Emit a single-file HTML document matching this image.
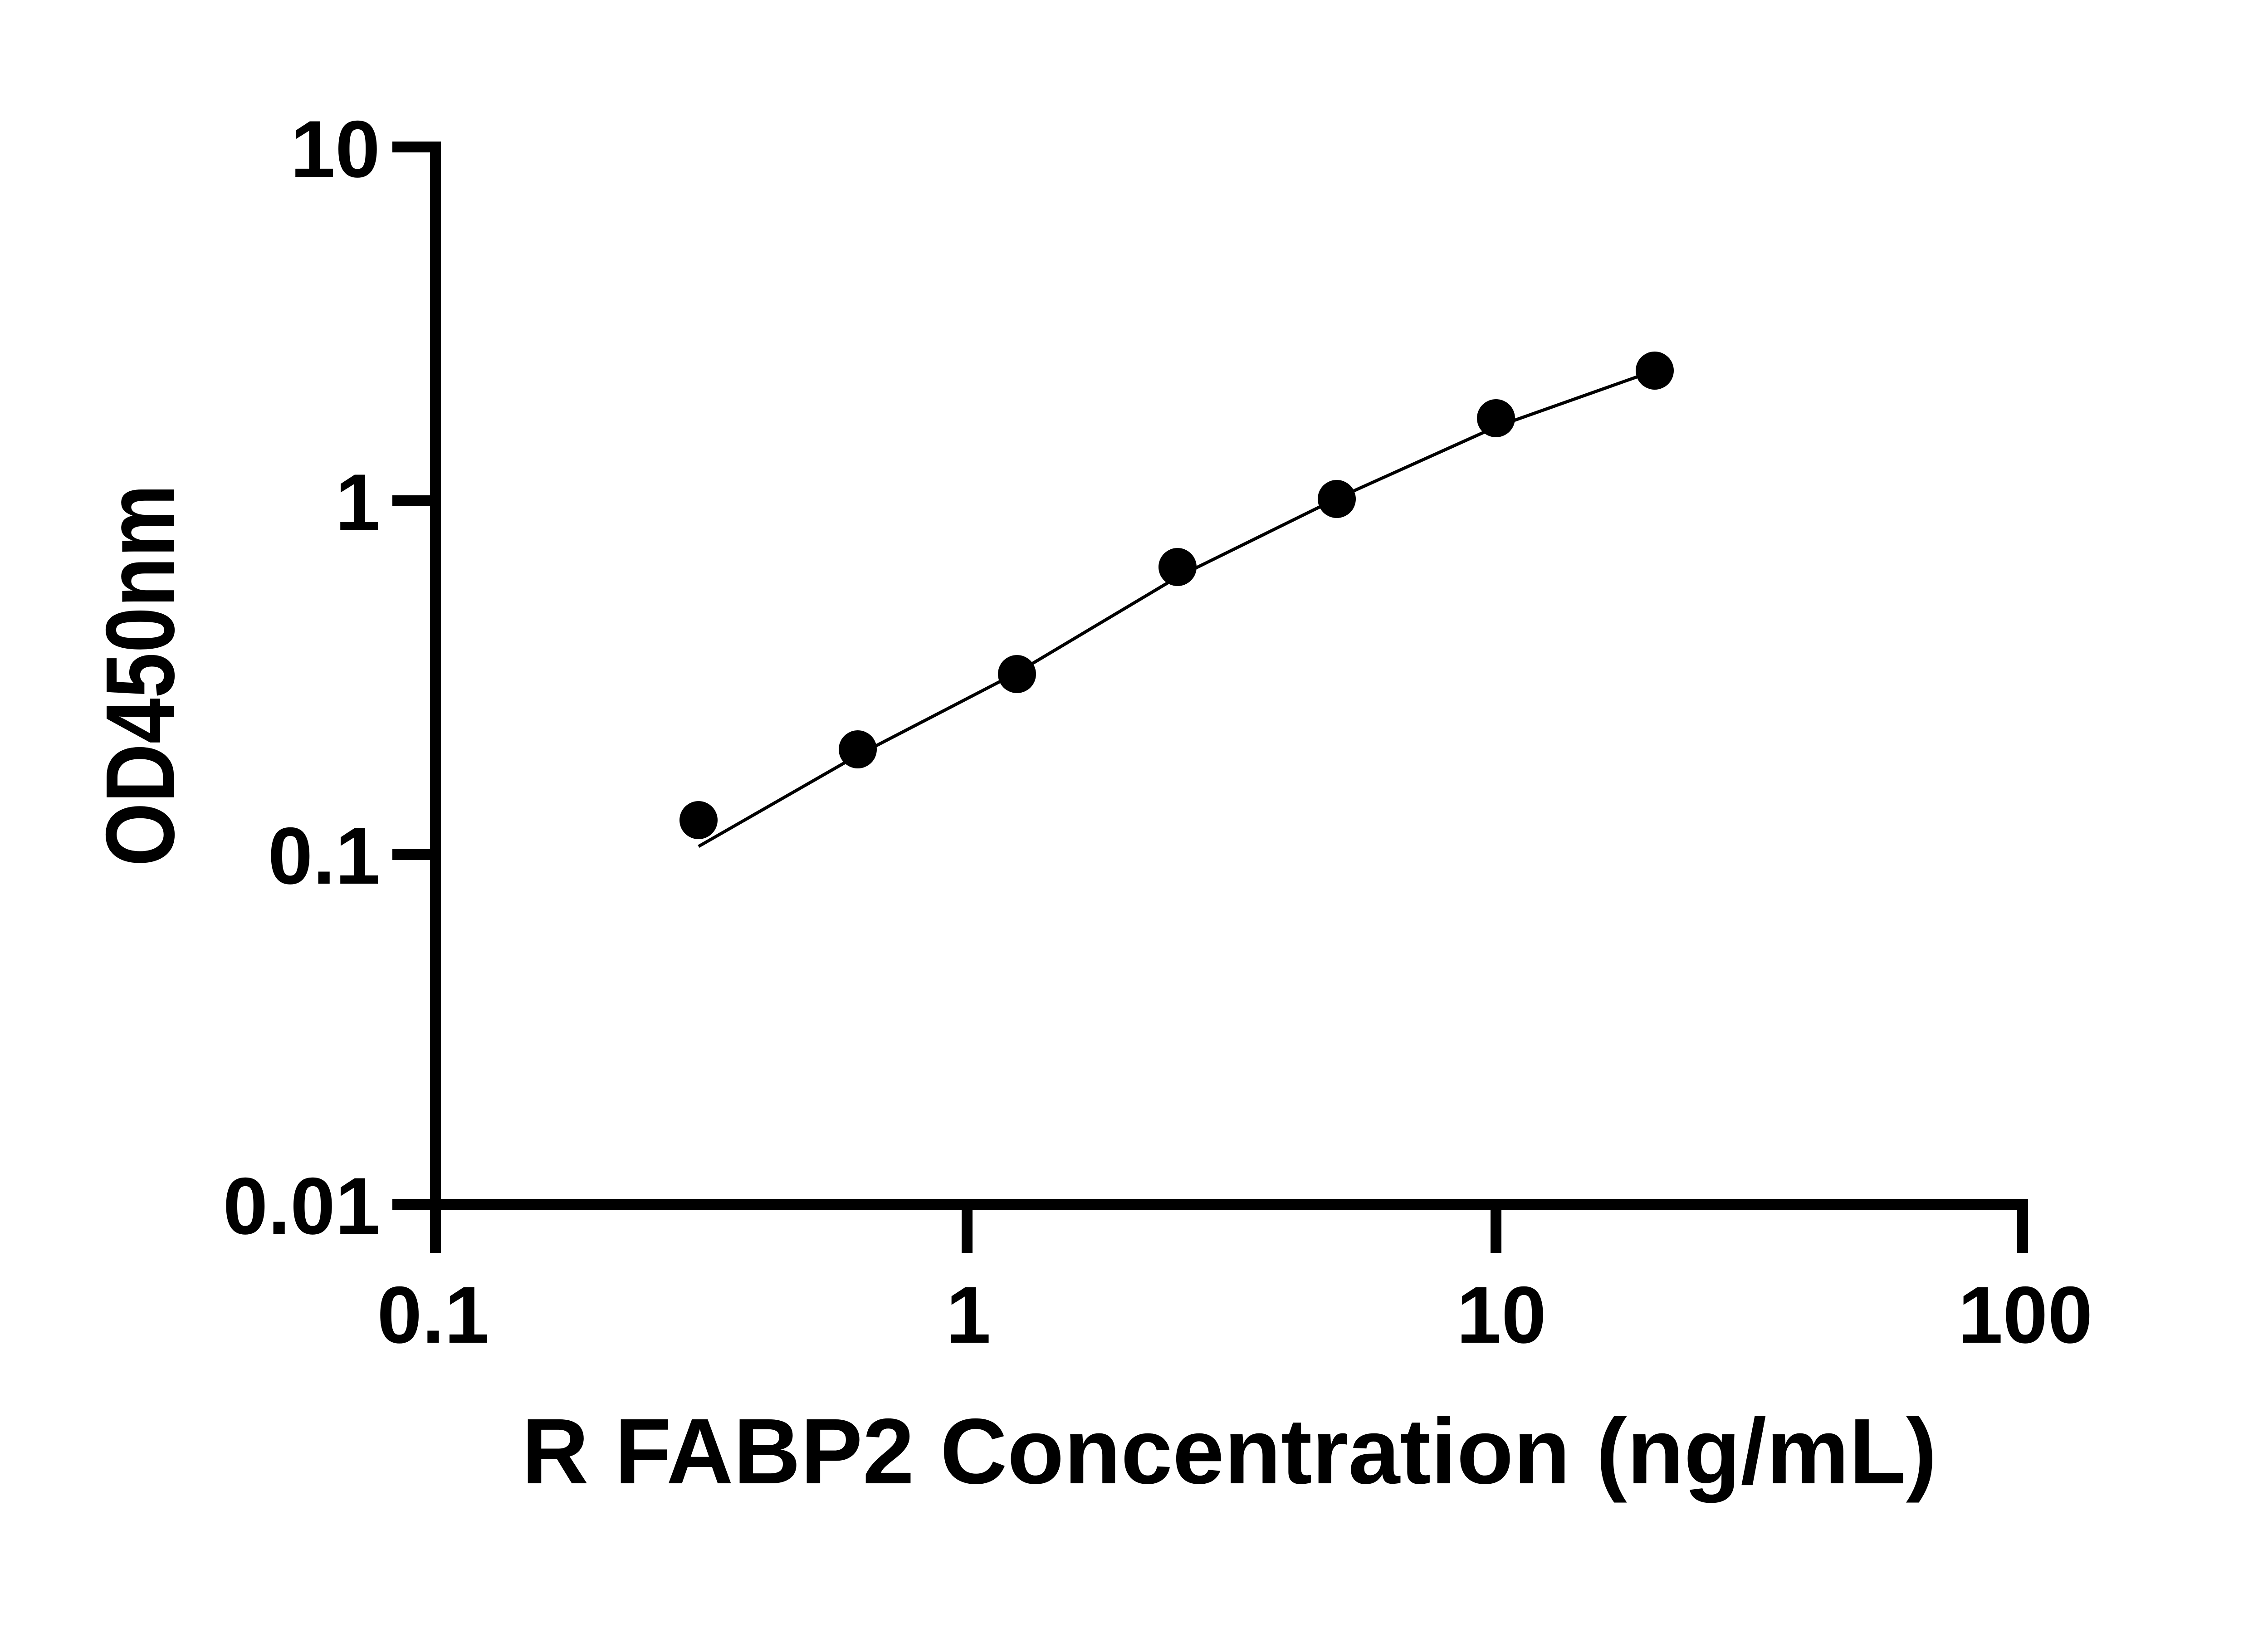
<!DOCTYPE html>
<html><head><meta charset="utf-8"><style>
html,body{margin:0;padding:0;background:#fff;}
svg{display:block;}
text{font-family:"Liberation Sans",sans-serif;font-weight:bold;fill:#000;}
</style></head><body>
<svg width="5142" height="3600" viewBox="0 0 5142 3600" xmlns="http://www.w3.org/2000/svg">
<g stroke="#000" stroke-width="24" fill="none" stroke-linecap="butt">
<line x1="960" y1="312" x2="960" y2="2667"/>
<line x1="948" y1="2655" x2="4471" y2="2655"/>
<line x1="865" y1="324" x2="960" y2="324"/>
<line x1="865" y1="1104" x2="960" y2="1104"/>
<line x1="865" y1="1884" x2="960" y2="1884"/>
<line x1="865" y1="2655" x2="960" y2="2655"/>
<line x1="960" y1="2655" x2="960" y2="2762"/>
<line x1="2132" y1="2655" x2="2132" y2="2762"/>
<line x1="3298" y1="2655" x2="3298" y2="2762"/>
<line x1="4459" y1="2643" x2="4459" y2="2762"/>
</g>
<g font-size="178" text-anchor="end">
<text x="838" y="390">10</text>
<text x="838" y="1169">1</text>
<text x="838" y="1948">0.1</text>
<text x="838" y="2720">0.01</text>
</g>
<g font-size="178" text-anchor="middle">
<text x="955" y="2960">0.1</text>
<text x="2135" y="2960">1</text>
<text x="3310" y="2960">10</text>
<text x="4465" y="2960">100</text>
</g>
<text x="1150" y="3270" font-size="205" textLength="3120" lengthAdjust="spacingAndGlyphs">R FABP2 Concentration (ng/mL)</text>
<text transform="translate(383,1910) rotate(-90)" font-size="215" textLength="842" lengthAdjust="spacingAndGlyphs">OD450nm</text>
<polyline fill="none" stroke="#000" stroke-width="7" points="1540,1866 1891,1665 2242,1483 2596,1272 2947,1099 3298,941 3648,817"/>
<g fill="#000">
<circle cx="1540" cy="1808" r="42"/>
<circle cx="1891" cy="1652" r="42"/>
<circle cx="2242" cy="1486" r="42"/>
<circle cx="2596" cy="1250" r="42"/>
<circle cx="2947" cy="1100" r="42"/>
<circle cx="3298" cy="922" r="42"/>
<circle cx="3648" cy="817" r="42"/>
</g>
</svg>
</body></html>
